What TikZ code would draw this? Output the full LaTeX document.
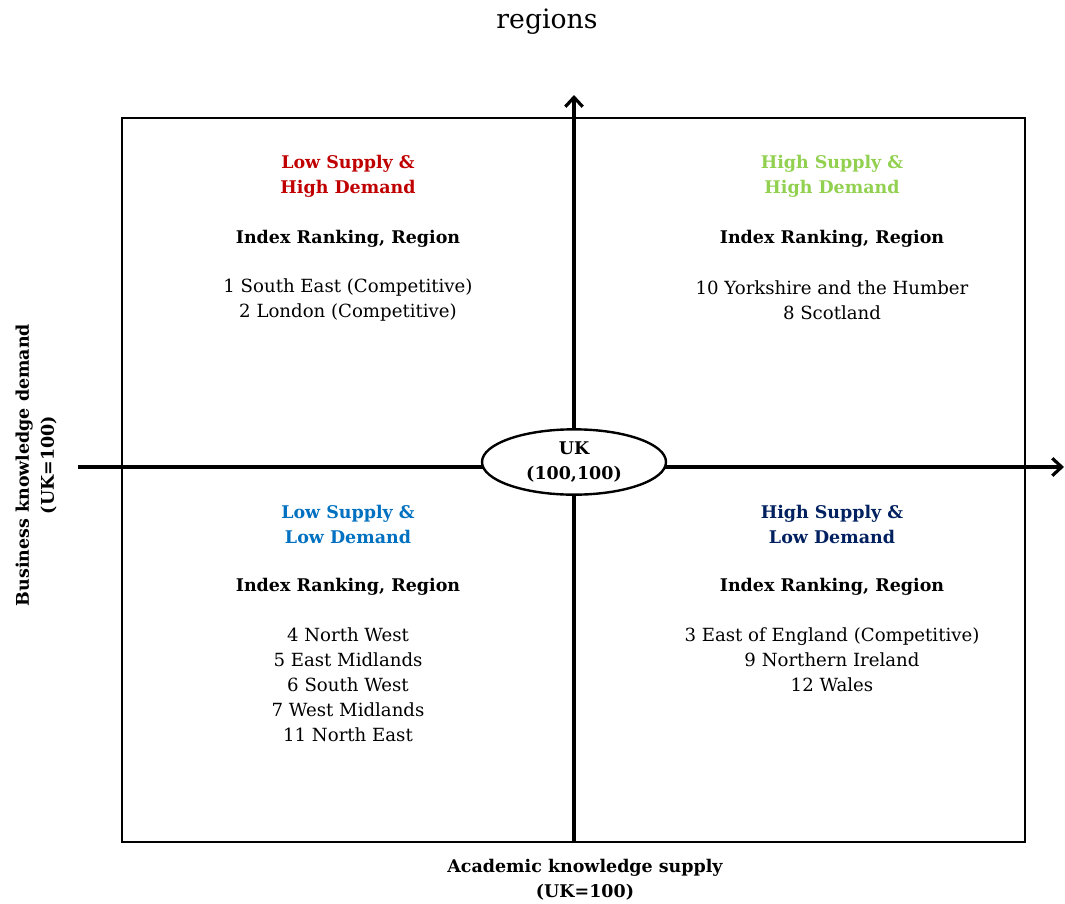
\documentclass[tikz,border=0pt]{standalone}
\usepackage{fontspec}
\setmainfont{DejaVu Serif}
\usepackage{xcolor}
\usetikzlibrary{positioning,arrows.meta,shapes.geometric}
\definecolor{lowhigh}{HTML}{C00000}
\definecolor{highhigh}{HTML}{92D050}
\definecolor{lowlow}{HTML}{0070C0}
\definecolor{highlow}{HTML}{002060}

\begin{document}
\begin{tikzpicture}[x=0.75pt,y=-0.75pt,
    every node/.style={font=\fontsize{13.6}{18.75}\selectfont,align=center},
    head/.style={font=\bfseries\fontsize{13.1}{18.75}\selectfont},
    axis/.style={line width=2.6pt,-{Straight Barb[length=7pt,width=13pt,line width=2.4pt]}}]
  \useasboundingbox (0,0) rectangle (1065,904);
  % title
  \node (title) at (547,22) {\fontsize{20}{24}\selectfont regions};
  % frame
  \draw[line width=1.6pt] (122,118) rectangle (1025,842);
  % axes
  \coordinate (xleft) at (78,467);
  \coordinate (xright) at (1064,467);
  \coordinate (ybot) at (574,842);
  \coordinate (ytop) at (574,95);
  \draw[axis] (xleft) -- (xright);
  \draw[axis] (ybot) -- (ytop);
  \node[ellipse,draw,fill=white,line width=1.8pt,inner sep=0pt,
        minimum width=138pt,minimum height=49pt,head] (uk) at (574,462) {UK\\(100,100)};
  % axis labels
  \node[head,rotate=90] (ylab) at (36,465) {Business knowledge demand\\(UK=100)};
  \node[head] (xlab) at (585,880) {Academic knowledge supply\\(UK=100)};
  % top left
  \node[head,text=lowhigh] (lhhead) at (348,176) {Low Supply \&\\High Demand};
  \node[head] (lhidx) at (348,239) {Index Ranking, Region};
  \node (lhlist) at (348,300) {1 South East (Competitive)\\2 London (Competitive)};
  % top right
  \node[head,text=highhigh] (hhhead) at (832,176) {High Supply \&\\High Demand};
  \node[head] (hhidx) at (832,239) {Index Ranking, Region};
  \node (hhlist) at (832,300) {10 Yorkshire and the Humber\\8 Scotland};
  % bottom left
  \node[head,text=lowlow] (llhead) at (348,524) {Low Supply \&\\Low Demand};
  \node[head] (llidx) at (348,587) {Index Ranking, Region};
  \node (lllist) at (348,685) {4 North West\\5 East Midlands\\6 South West\\7 West Midlands\\11 North East};
  % bottom right
  \node[head,text=highlow] (hlhead) at (832,524) {High Supply \&\\Low Demand};
  \node[head] (hlidx) at (832,587) {Index Ranking, Region};
  \node (hllist) at (832,660) {3 East of England (Competitive)\\9 Northern Ireland\\12 Wales};
\end{tikzpicture}
\end{document}
